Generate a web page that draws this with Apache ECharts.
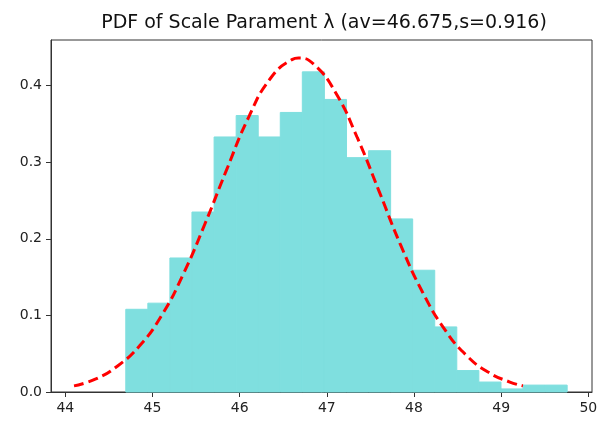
<!DOCTYPE html>
<html>
<head>
<meta charset="utf-8">
<script src="https://cdn.jsdelivr.net/npm/echarts@6/dist/echarts.min.js"></script>
<style>
  html, body { margin: 0; padding: 0; background: #fff; }
  #main { width: 602px; height: 421px; }
</style>
</head>
<body>
<div id="main"></div>
<script type="text/javascript">
    // histogram bins (edges) and density heights
    var binEdges = [44.694, 44.947, 45.200, 45.453, 45.707, 45.960, 46.213, 46.466, 46.719, 46.972,
                    47.226, 47.479, 47.732, 47.985, 48.238, 48.491, 48.744, 48.998, 49.251, 49.504, 49.757];
    var binHeights = [0.108, 0.116, 0.175, 0.235, 0.333, 0.361, 0.333, 0.365, 0.418, 0.382,
                      0.306, 0.315, 0.226, 0.159, 0.085, 0.028, 0.013, 0.004, 0.009, 0.009];
    // fitted pdf curve
    var curveX = [44.10, 44.35, 44.60, 44.85, 45.10, 45.35, 45.60, 45.85, 46.10, 46.35, 46.60, 46.675,
                  46.85, 47.10, 47.35, 47.60, 47.85, 48.10, 48.35, 48.60, 48.85, 49.10, 49.25];
    var curveY = [0.008, 0.017, 0.034, 0.060, 0.099, 0.153, 0.219, 0.290, 0.358, 0.409, 0.434, 0.436,
                  0.428, 0.391, 0.332, 0.262, 0.191, 0.130, 0.082, 0.048, 0.026, 0.013, 0.008];
    var xTicks = [44, 45, 46, 47, 48, 49, 50];
    var yTicks = [0, 0.1, 0.2, 0.3, 0.4];

    var histData = [];
    for (var i = 0; i < binHeights.length; i++) {
        histData.push([binEdges[i], binEdges[i + 1], binHeights[i]]);
    }
    var curveData = [];
    for (var j = 0; j < curveX.length; j++) {
        curveData.push([curveX[j], curveY[j]]);
    }

    var myChart = echarts.init(document.getElementById('main'));
    var axisColor = '#333';
    var myOption = {
        animation: false,
        title: {
            text: 'PDF of Scale Parament λ (av=46.675,s=0.916)',
            left: 319,
            top: 9,
            textAlign: 'center',
            textStyle: {
                fontFamily: 'DejaVu Sans',
                fontSize: 19,
                fontWeight: 'normal',
                color: '#111'
            }
        },
        grid: {
            left: 51, right: 10, top: 40, bottom: 29,
            show: true,
            borderColor: axisColor,
            borderWidth: 1
        },
        xAxis: {
            type: 'value',
            min: 43.836,
            max: 50.042,
            splitLine: { show: false },
            axisLine: { show: true, lineStyle: { color: axisColor } },
            axisTick: { show: true, length: 5, customValues: xTicks, lineStyle: { color: axisColor } },
            axisLabel: {
                customValues: xTicks,
                margin: 9,
                fontFamily: 'DejaVu Sans',
                fontSize: 14,
                color: '#222'
            }
        },
        yAxis: {
            type: 'value',
            min: 0,
            max: 0.4596,
            splitLine: { show: false },
            axisLine: { show: true, lineStyle: { color: axisColor } },
            axisTick: { show: true, length: 5, customValues: yTicks, lineStyle: { color: axisColor } },
            axisLabel: {
                customValues: yTicks,
                margin: 9,
                fontFamily: 'DejaVu Sans',
                fontSize: 14,
                color: '#222',
                formatter: function (v) { return v.toFixed(1); }
            }
        },
        series: [
            {
                type: 'custom',
                data: histData,
                renderItem: function (params, api) {
                    var p0 = api.coord([api.value(0), api.value(2)]);
                    var p1 = api.coord([api.value(1), 0]);
                    return {
                        type: 'rect',
                        shape: { x: p0[0], y: p0[1], width: p1[0] - p0[0], height: p1[1] - p0[1] },
                        style: { fill: '#7fdfdf', stroke: '#7fdfdf', lineWidth: 1 }
                    };
                },
                encode: { x: [0, 1], y: 2 },
                z: 1
            },
            {
                type: 'line',
                data: curveData,
                smooth: true,
                symbol: 'none',
                lineStyle: { color: '#ff0000', width: 3, type: [10, 5] },
                z: 2
            }
        ]
    };
    myChart.setOption(myOption);
</script>
</body>
</html>
